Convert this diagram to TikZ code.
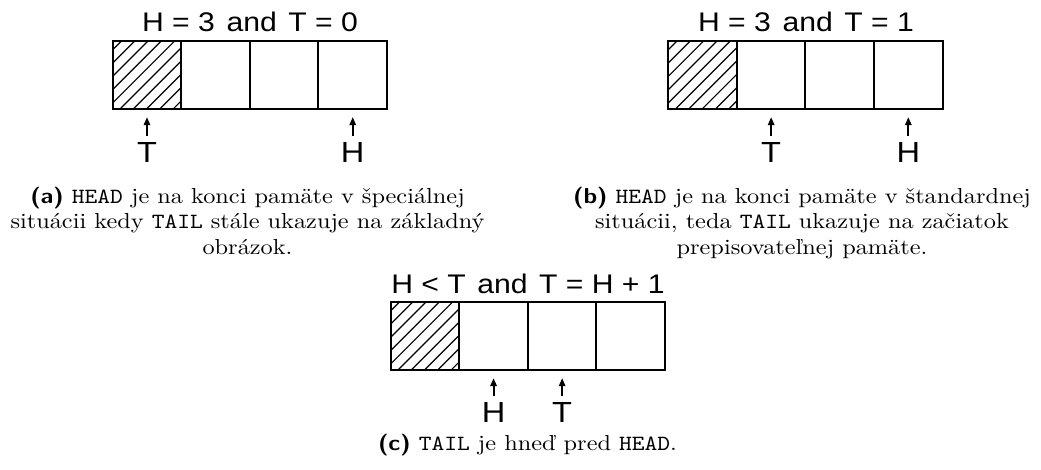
\documentclass[tikz,border=0pt]{standalone}
\usepackage{fontspec}
\newfontfamily\figfont{Liberation Sans}
\usetikzlibrary{arrows.meta}

\tikzset{
  cell/.style={draw, line width=0.9pt, minimum width=31.6pt, minimum height=31.4pt,
    inner sep=0pt, outer sep=0pt, anchor=north west},
  hatchline/.style={line width=0.55pt},
  headline/.style={font=\figfont\fontsize{12.4}{14}\selectfont, anchor=base, inner sep=0pt},
  ptrlabel/.style={font=\figfont\fontsize{13.4}{15}\selectfont, anchor=north, inner sep=0pt},
  ptr/.style={line width=0.9pt, -{Triangle[length=3.7pt,width=2.9pt]},
    shorten <=2.9pt, shorten >=3.8pt},
  caption/.style={anchor=base, inner sep=0pt, font=\fontsize{10}{11.65}\selectfont}
}

% diagonal hatching of one cell (local units: px, y pointing down)
\newcommand\hatchcell[1]{%
  \begin{scope}[shift={(#1.north west)}]
    \clip (0,0) rectangle (68.6,68.2);
    \foreach \c in {9,22.3,...,140} \draw[hatchline] (\c,0) -- (0,\c);
  \end{scope}}

% slightly widened lettering
\newcommand\hx[1]{\scalebox{1.12}[1]{#1}}
% centred caption lines; the baseline is that of the last line
\newcommand\captext[1]{\hx{\begin{tabular}[b]{@{}c@{}}#1\end{tabular}}}
\newcommand\lab[1]{{\sffamily\bfseries (#1)}}

\begin{document}
\begin{tikzpicture}[x=0.4608pt, y=-0.4608pt]
\useasboundingbox (0,0) rectangle (1041,469);

% ---- (a) H = 3, T = 0
\node[cell] (a0) at (112.7,40.7) {};
\node[cell] (a1) at (a0.north east) {};
\node[cell] (a2) at (a1.north east) {};
\node[cell] (a3) at (a2.north east) {};
\hatchcell{a0}
\node[headline] (ha) at (250,31.7) {\hx{H = 3 \hspace{1.3pt}and \hspace{1.3pt}T = 0}};
\path (a0.south) ++(0,33) node[ptrlabel] (aT) {\hx{T}};
\path (a3.south) ++(0,33) node[ptrlabel] (aH) {\hx{H}};
\draw[ptr] (aT) -- (a0);
\draw[ptr] (aH) -- (a3);
\node[caption] (capa) at (247.5,254)
  {\captext{\lab{a} \texttt{HEAD} je na konci pamäte v špeciálnej\\
   situácii kedy \texttt{TAIL} stále ukazuje na základný\\
   obrázok.}};

% ---- (b) H = 3, T = 1
\node[cell] (b0) at (668.3,40.7) {};
\node[cell] (b1) at (b0.north east) {};
\node[cell] (b2) at (b1.north east) {};
\node[cell] (b3) at (b2.north east) {};
\hatchcell{b0}
\node[headline] (hb) at (806,31.7) {\hx{H = 3 \hspace{1.3pt}and \hspace{1.3pt}T = 1}};
\path (b1.south) ++(0,33) node[ptrlabel] (bT) {\hx{T}};
\path (b3.south) ++(0,33) node[ptrlabel] (bH) {\hx{H}};
\draw[ptr] (bT) -- (b1);
\draw[ptr] (bH) -- (b3);
\node[caption] (capb) at (802,254)
  {\captext{\lab{b} \texttt{HEAD} je na konci pamäte v štandardnej\\
   situácii, teda \texttt{TAIL} ukazuje na začiatok\\
   prepisovateľnej pamäte.}};

% ---- (c) TAIL directly before HEAD
\node[cell] (c0) at (390.7,301.7) {};
\node[cell] (c1) at (c0.north east) {};
\node[cell] (c2) at (c1.north east) {};
\node[cell] (c3) at (c2.north east) {};
\hatchcell{c0}
\node[headline] (hc) at (528,293.3) {\hx{H < T \hspace{1.3pt}and \hspace{1.3pt}T = H + 1}};
\path (c1.south) ++(0,32) node[ptrlabel] (cH) {\hx{H}};
\path (c2.south) ++(0,32) node[ptrlabel] (cT) {\hx{T}};
\draw[ptr] (cH) -- (c1);
\draw[ptr] (cT) -- (c2);
\node[caption] (capc) at (527.5,450)
  {\captext{\lab{c} \texttt{TAIL} je hneď pred \texttt{HEAD}.}};
\end{tikzpicture}
\end{document}
